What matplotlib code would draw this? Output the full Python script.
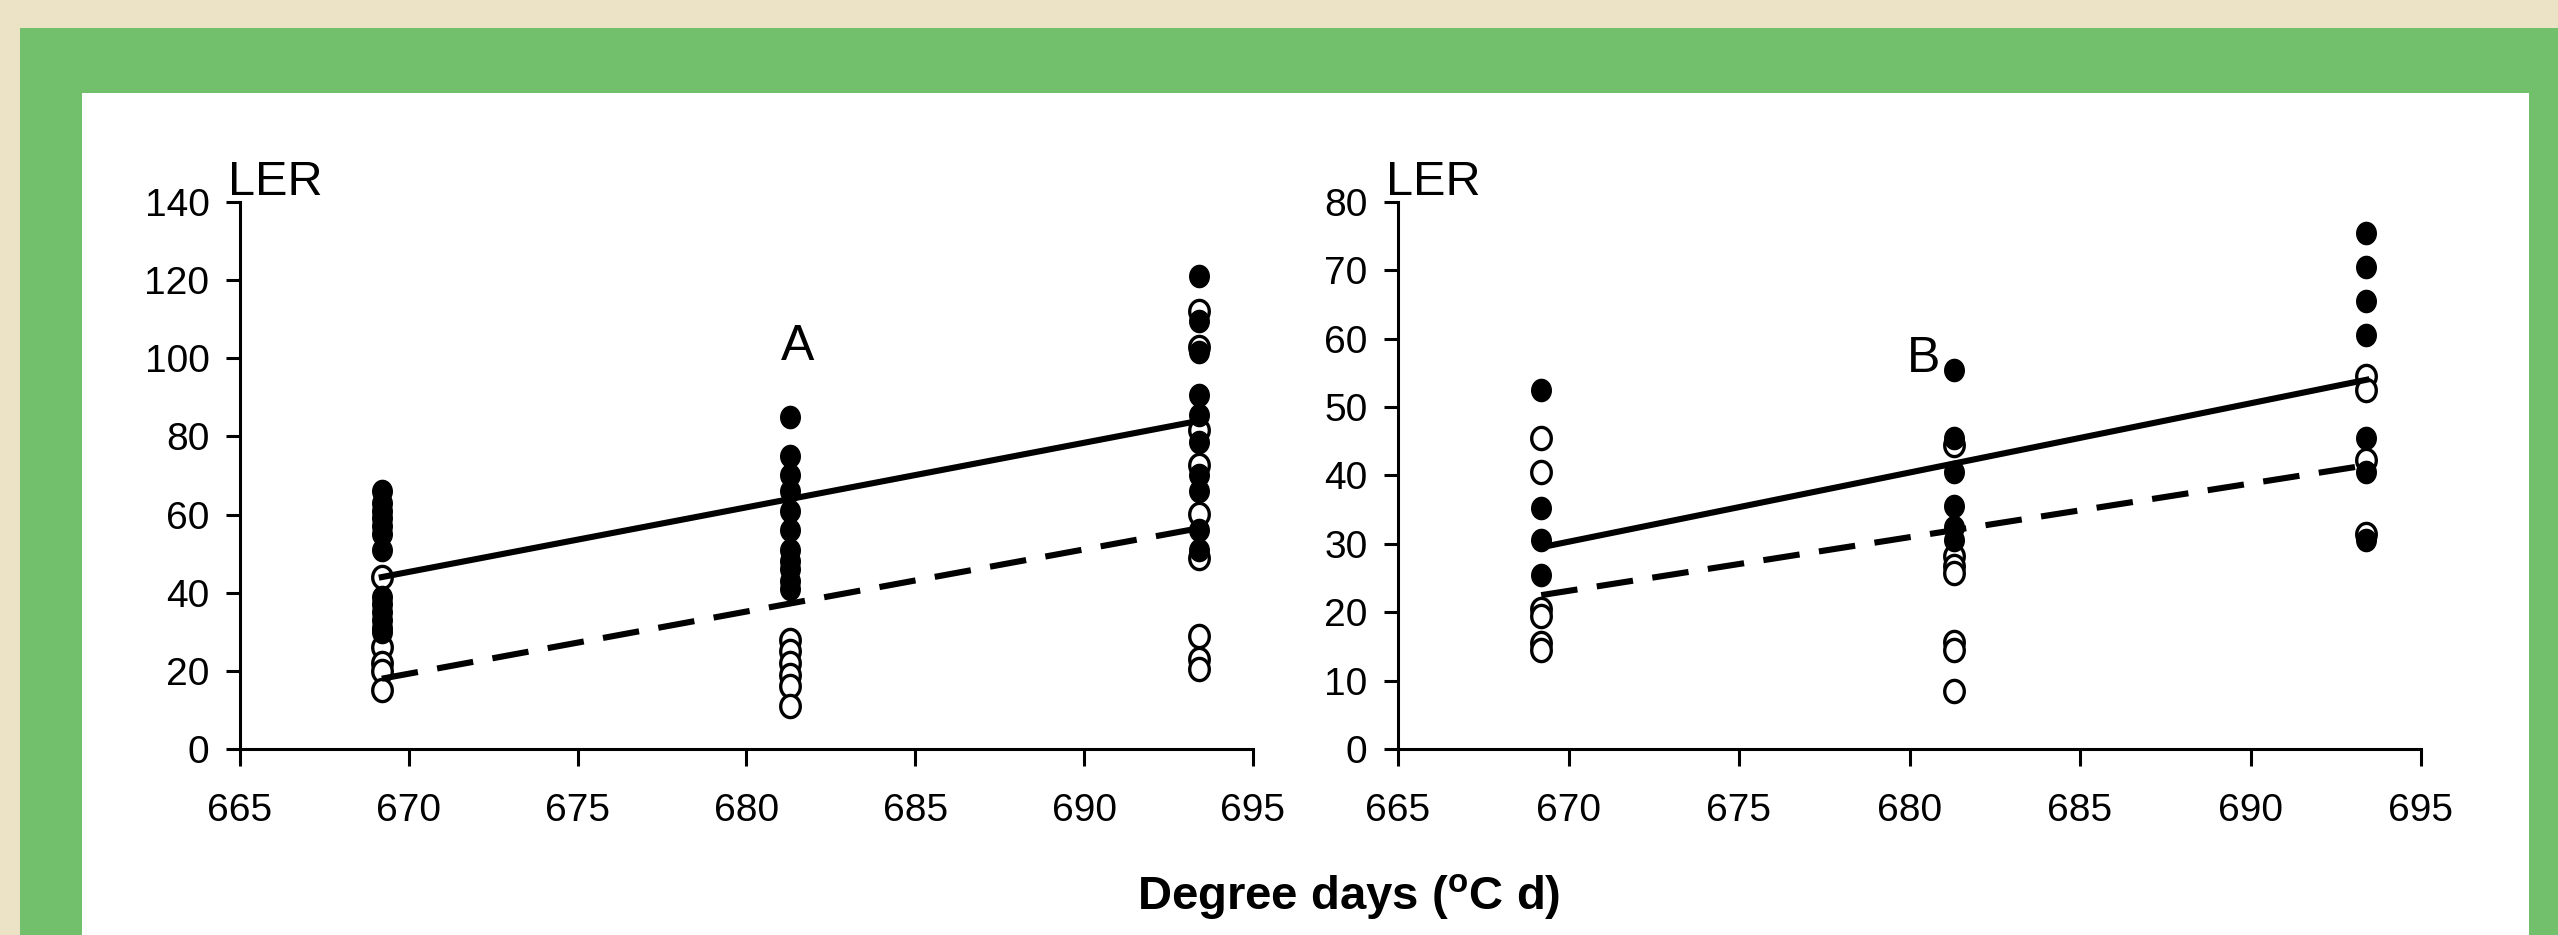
import numpy as np
import matplotlib.pyplot as plt
from matplotlib.patches import Rectangle
from matplotlib.path import Path

plt.rcParams['font.family'] = ['Liberation Sans', 'DejaVu Sans']

# x positions of the three sampling dates (degree days)
dd = [669.2, 681.3, 693.4]

# Panel A - filled (black) and open (white) symbols, per date
a_filled = [[66, 63, 61, 59, 57, 55, 51, 39, 37, 35, 33, 31, 30],
            [85, 75, 70, 66, 61, 56, 51, 48, 46, 43, 41],
            [121, 109.5, 101.5, 90.7, 85.5, 78.6, 70, 66, 56, 51]]
a_open = [[44, 26, 22, 20, 15],
          [28, 25, 22, 19, 16, 11],
          [112, 103, 81.6, 72.6, 60.2, 49, 29, 23, 20.5]]
a_trend_solid = [44, 84]
a_trend_dash = [18, 56.5]

# Panel B
b_filled = [[52.5, 35.3, 30.6, 25.5],
            [55.5, 45.5, 40.5, 35.5, 32.5, 30.5],
            [75.5, 70.5, 65.5, 60.5, 45.5, 40.5, 30.5]]
b_open = [[45.5, 40.5, 20.5, 19.5, 15.5, 14.5],
          [44.5, 28.2, 26.7, 25.7, 15.6, 14.5, 8.5],
          [54.5, 52.5, 42.2, 31.4]]
b_trend_solid = [29.5, 54]
b_trend_dash = [22.5, 41.5]

# slightly tall oval marker, like the original
t = np.linspace(0, 2*np.pi, 60)
oval = Path(np.column_stack([0.44*np.cos(t), 0.5*np.sin(t)]), closed=True)

fig = plt.figure(figsize=(25.58, 9.35), dpi=100)
fig.patch.set_facecolor('#ece3c6')
# green frame and white card
fig.add_artist(Rectangle((20/2558, 0), 1, 1 - 28/935, transform=fig.transFigure,
                         facecolor='#72bf6c', edgecolor='none', zorder=0))
fig.add_artist(Rectangle((82/2558, 0), (2529-82)/2558, 1 - 93/935, transform=fig.transFigure,
                         facecolor='white', edgecolor='none', zorder=0))

axA = fig.add_axes([240/2558, 1 - 749/935, (1253-240)/2558, (749-202)/935])
axB = fig.add_axes([1398/2558, 1 - 749/935, (2421-1398)/2558, (749-202)/935])


def draw_panel(ax, filled, opened, solid, dash, ymax, ystep, letter, lpos):
    for x, ys in zip(dd, opened):
        ax.plot([x]*len(ys), ys, marker=oval, ms=16, mfc='white', mec='black', mew=2.4,
                ls='none', zorder=2, clip_on=False)
    for x, ys in zip(dd, filled):
        ax.plot([x]*len(ys), ys, marker=oval, ms=16, mfc='black', mec='black', mew=1,
                ls='none', zorder=3, clip_on=False)
    ax.plot([dd[0], dd[-1]], solid, '-', color='black', lw=4.4, zorder=4)
    ax.plot([dd[0], dd[-1]], dash, '--', color='black', lw=4.4, dashes=(6, 3.2), zorder=4)
    ax.set_xlim(665, 695)
    ax.set_ylim(0, ymax)
    ax.set_xticks(np.arange(665, 696, 5))
    ax.set_yticks(np.arange(0, ymax + 1, ystep))
    ax.set_facecolor('none')
    for s in ['top', 'right']:
        ax.spines[s].set_visible(False)
    for s in ['left', 'bottom']:
        ax.spines[s].set_linewidth(2.2)
    ax.tick_params(axis='y', direction='out', length=10, width=2.2, labelsize=28, pad=12)
    ax.tick_params(axis='x', direction='out', length=12, width=2.2, labelsize=28, pad=20)
    ax.text(-0.012, 1.012, 'LER', transform=ax.transAxes, fontsize=35,
            ha='left', va='baseline')
    ax.text(lpos[0], lpos[1], letter, fontsize=36, ha='center', va='center')


draw_panel(axA, a_filled, a_open, a_trend_solid, a_trend_dash, 140, 20, 'A', (681.5, 103))
draw_panel(axB, b_filled, b_open, b_trend_solid, b_trend_dash, 80, 10, 'B', (680.4, 57))

fig.text(1349/2558, 1 - 897/935, r'Degree days ($\mathregular{^{o}}$C d)', fontsize=34,
         fontweight='bold', ha='center', va='center')

fig.savefig('out.png', dpi=100)
